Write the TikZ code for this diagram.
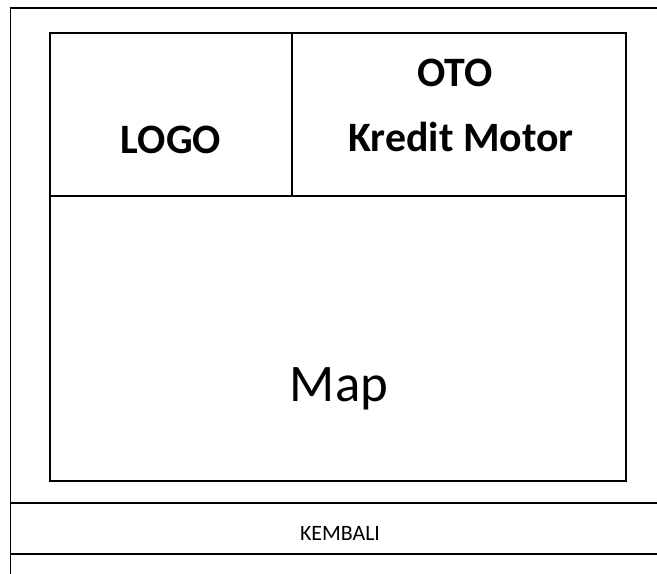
\documentclass[tikz,border=0pt]{standalone}
\usepackage{fontspec}
\setmainfont{Carlito}
\begin{document}
\begin{tikzpicture}[x=1bp,y=-1bp,
  frame/.style={draw=black,line width=1.6bp},
  title/.style={font=\fontsize{42}{50}\selectfont\bfseries,anchor=base,inner sep=0pt},
  bigtext/.style={font=\fontsize{53}{62}\selectfont,anchor=base,inner sep=0pt},
  btntext/.style={font=\fontsize{22}{26}\selectfont,anchor=base,inner sep=0pt}]
  \useasboundingbox[fill=white] (0,0) rectangle (657,574);
  % screen outline (open on the right and bottom)
  \draw[frame] (657,8) -- (10.5,8) -- (10.5,574);
  % inner panel: header cells above the map area
  \draw[frame] (50,33) rectangle (626,481);
  \draw[frame] (50,196) -- (626,196);
  \draw[frame] (292,33) -- (292,196);
  % button strip
  \draw[frame] (10.5,503) -- (657,503);
  \draw[frame] (10.5,554) -- (657,554);
  % labels
  \node[title] (logo) at (171,154) {LOGO};
  \node[title] (oto) at (455,87) {OTO};
  \node[title] (kredit) at (461,152) {Kredit Motor};
  \node[bigtext] (map) at (339,401) {Map};
  \node[btntext] (kembali) at (340,540) {KEMBALI};
\end{tikzpicture}
\end{document}
